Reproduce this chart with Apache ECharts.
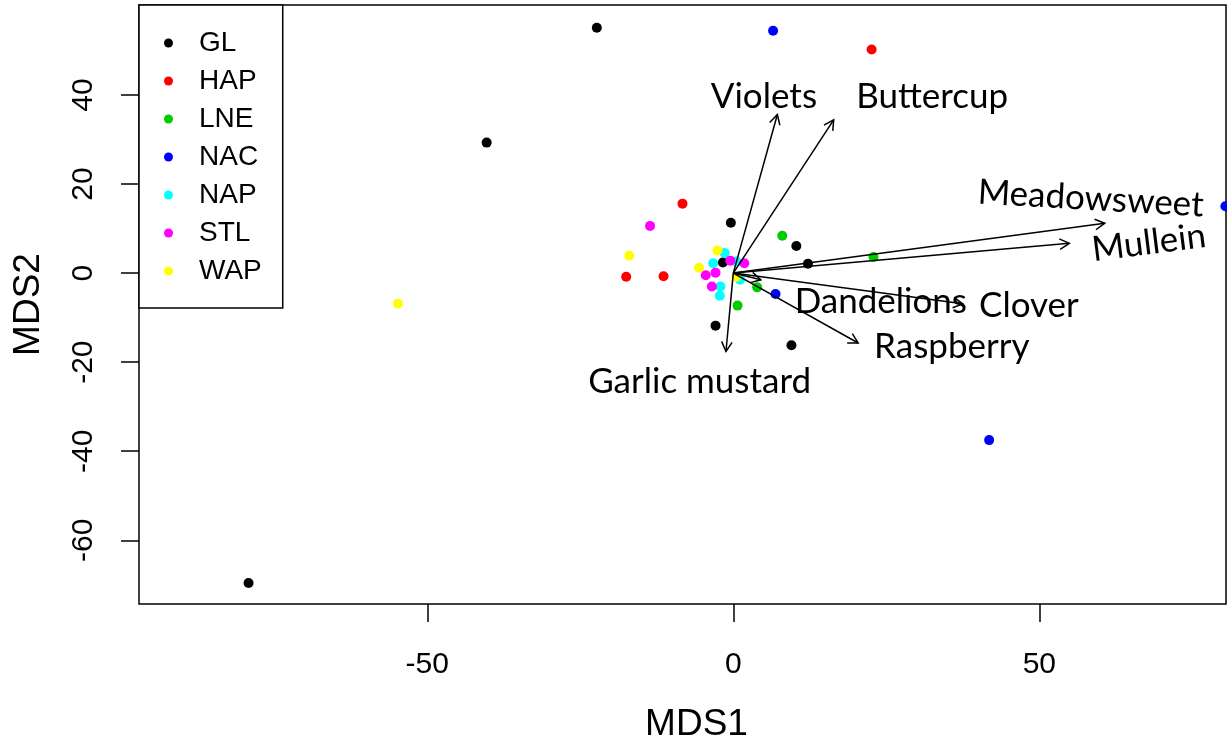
<!DOCTYPE html>
<html>
<head>
<meta charset="utf-8">
<script src="https://cdn.jsdelivr.net/npm/echarts@6/dist/echarts.min.js"></script>
<style>
  html, body { margin: 0; padding: 0; background: #fff; }
  #main { width: 1227px; height: 751px; }
</style>
</head>
<body>
<div id="main"></div>
<script>
// site groups and their MDS scores
var groups = ['GL', 'HAP', 'LNE', 'NAC', 'NAP', 'STL', 'WAP'];
var groupColors = ['#000000', '#ff0000', '#00cd00', '#0000ff', '#00ffff', '#ff00ff', '#ffff00'];

var glPts = [[-22.3, 55.1], [-40.3, 29.3], [-79.2, -69.6], [-0.4, 11.3], [10.3, 6.1], [12.2, 2.1], [-1.7, 2.4], [-2.9, -11.8], [9.5, -16.2]];
var hapPts = [[22.6, 50.2], [-8.3, 15.6], [-17.5, -0.8], [-11.4, -0.7]];
var lnePts = [[8.0, 8.4], [22.9, 3.6], [3.9, -3.2], [0.7, -7.3]];
var nacPts = [[6.5, 54.4], [41.8, -37.5], [6.9, -4.7], [80.4, 15.0]];
var napPts = [[-1.4, 4.5], [-3.3, 2.2], [-2.1, -3.0], [-2.2, -5.1], [1.1, -1.5], [0.5, 2.6]];
var stlPts = [[-13.6, 10.6], [-4.5, -0.5], [-2.9, 0.1], [-3.5, -3.0], [-0.5, 2.8], [1.8, 2.2]];
var wapPts = [[-54.8, -6.9], [-17.0, 3.9], [-5.6, 1.2], [-2.6, 5.1], [0.5, -0.8]];
var groupPts = [glPts, hapPts, lnePts, nacPts, napPts, stlPts, wapPts];

// species vectors (arrow tips) and where their labels sit
var arrowNames = ['Violets', 'Buttercup', 'Meadowsweet', 'Mullein', 'Dandelions', 'Clover', 'Raspberry', 'Garlic mustard'];
var arrowX = [7.2, 16.4, 60.7, 54.9, 4.5, 37.5, 20.4, -1.2];
var arrowY = [35.6, 34.4, 11.2, 6.7, -1.5, -6.9, -15.7, -17.6];
var labelX = [5.0, 32.5, 58.4, 67.9, 24.1, 48.3, 35.7, -5.5];
var labelY = [39.5, 39.5, 16.7, 6.8, -6.5, -7.4, -16.5, -24.3];

var xTicks = [-50, 0, 50];
var yTicks = [-60, -40, -20, 0, 20, 40];

var chart = echarts.init(document.getElementById('main'));

// a few labels are tilted in the picture
var labelTilt = { 'Meadowsweet': -0.058, 'Mullein': 0.125 };

var series = groups.map(function (g, i) {
  return {
    name: g,
    type: 'scatter',
    data: groupPts[i],
    symbol: 'circle',
    symbolSize: 10,
    itemStyle: { color: groupColors[i], opacity: 1 },
    z: 2
  };
});

series.push({
  type: 'custom',
  name: 'arrows',
  data: arrowX.map(function (x, i) { return [x, arrowY[i]]; }),
  z: 3,
  renderItem: function (params, api) {
    var p0 = api.coord([0, 0]);
    var p1 = api.coord([api.value(0), api.value(1)]);
    var ang = Math.atan2(p1[1] - p0[1], p1[0] - p0[0]);
    var h = 11, a = 0.5;
    var w1 = [p1[0] - h * Math.cos(ang - a), p1[1] - h * Math.sin(ang - a)];
    var w2 = [p1[0] - h * Math.cos(ang + a), p1[1] - h * Math.sin(ang + a)];
    return {
      type: 'group',
      children: [
        { type: 'line', shape: { x1: p0[0], y1: p0[1], x2: p1[0], y2: p1[1] }, style: { stroke: '#000', lineWidth: 1.5 } },
        { type: 'polyline', shape: { points: [w1, p1, w2] }, style: { stroke: '#000', lineWidth: 1.5, fill: null } }
      ]
    };
  }
});

series.push({
  type: 'custom',
  name: 'labels',
  data: labelX.map(function (x, i) { return [x, labelY[i]]; }),
  z: 4,
  renderItem: function (params, api) {
    var p = api.coord([api.value(0), api.value(1)]);
    var name = arrowNames[params.dataIndex];
    return {
      type: 'text',
      x: p[0],
      y: p[1],
      rotation: labelTilt[name] || 0,
      style: {
        text: name,
        fontSize: 35,
        fontFamily: 'Lato',
        fill: '#000',
        align: 'center',
        verticalAlign: 'middle'
      }
    };
  }
});

var option = {
  backgroundColor: '#fff',
  animation: false,
  grid: {
    left: 139, top: 5, right: 1, bottom: 147,
    show: true, borderColor: '#000', borderWidth: 1.5, backgroundColor: 'transparent'
  },
  legend: {
    data: groups,
    orient: 'vertical',
    left: 139,
    top: 5,
    icon: 'circle',
    itemWidth: 9,
    itemHeight: 9,
    itemGap: 8,
    padding: [23, 21, 22, 25],
    backgroundColor: '#fff',
    borderColor: '#000',
    borderWidth: 1.5,
    borderRadius: 0,
    textStyle: { fontSize: 28, lineHeight: 30, fontFamily: 'Liberation Sans', color: '#000', padding: [0, 0, 0, 21] },
    selectedMode: false,
    z: 10
  },
  xAxis: {
    type: 'value',
    min: -97.1,
    max: 80.5,
    name: 'MDS1',
    nameLocation: 'middle',
    nameGap: 102,
    nameTextStyle: { fontSize: 37, fontFamily: 'Liberation Sans', color: '#000', padding: [0, 0, 0, 28] },
    axisLine: { show: false, onZero: false },
    splitLine: { show: false },
    axisTick: { show: true, length: 18, customValues: xTicks, lineStyle: { color: '#000', width: 1.5 } },
    axisLabel: { customValues: xTicks, margin: 46, fontSize: 30, fontFamily: 'Liberation Sans', color: '#000' }
  },
  yAxis: {
    type: 'value',
    min: -74.3,
    max: 60.2,
    name: 'MDS2',
    nameLocation: 'middle',
    nameGap: 92,
    nameTextStyle: { fontSize: 37, fontFamily: 'Liberation Sans', color: '#000' },
    axisLine: { show: false, onZero: false },
    splitLine: { show: false },
    axisTick: { show: true, length: 18, customValues: yTicks, lineStyle: { color: '#000', width: 1.5 } },
    axisLabel: {
      customValues: yTicks, rotate: 90, margin: 40, align: 'center', verticalAlign: 'bottom',
      fontSize: 30, fontFamily: 'Liberation Sans', color: '#000'
    }
  },
  series: series
};

chart.setOption(option);
</script>
</body>
</html>
